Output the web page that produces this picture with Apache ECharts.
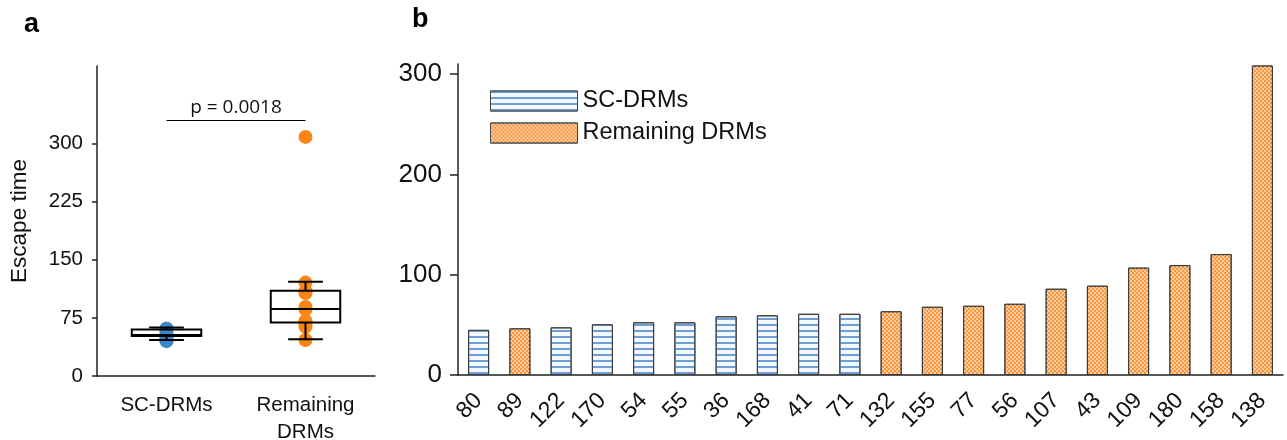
<!DOCTYPE html>
<html>
<head>
<meta charset="utf-8">
<script src="https://cdn.jsdelivr.net/npm/echarts@6/dist/echarts.min.js"></script>
<style>
	html, body { margin: 0; padding: 0; background: #fff; }
	#chart { width: 1287px; height: 440px; }
</style>
</head>
<body>
<div id="chart"></div>
<script>
	// panel b: one bar per DRM, sorted by escape time
	const drmIds = ['80', '89', '122', '170', '54', '55', '36', '168', '41', '71',
		'132', '155', '77', '56', '107', '43', '109', '180', '158', '138'];
	const escapeTimes = [45, 46.5, 47.5, 50.5, 52.5, 52.5, 58.5, 59.5, 61, 61,
		63.5, 68, 69, 71, 86, 89, 107, 109.5, 120.5, 308.5];
	const drmGroups = ['SC', 'R', 'SC', 'SC', 'SC', 'SC', 'SC', 'SC', 'SC', 'SC',
		'R', 'R', 'R', 'R', 'R', 'R', 'R', 'R', 'R', 'R'];

	// panel a
	const groupNames = ['SC-DRMs', 'Remaining\nDRMs'];
	// box stats: [min, q1, median, q3, max]
	const scBox = [46.5, 51.5, 53, 60, 62.5];
	const remBox = [47.5, 69, 86.5, 110, 121.5];
	const pValueText = 'p = 0.0018';
	const pBarLevel = 330;

	const yTicksA = [0, 75, 150, 225, 300];
	const yTicksB = [0, 100, 200, 300];

	const scPoints = escapeTimes.filter((v, i) => drmGroups[i] === 'SC').map(v => [0, v]);
	const remPoints = escapeTimes.filter((v, i) => drmGroups[i] === 'R').map(v => [1, v]);

	const scBars = escapeTimes.map((v, i) => drmGroups[i] === 'SC' ? v : null);
	const remBars = escapeTimes.map((v, i) => drmGroups[i] === 'R' ? v : null);

	const axisColor = '#222';
	const fontA = 'Liberation Sans, Arial, sans-serif';

	const mychart = echarts.init(document.getElementById('chart'));

	mychart.setOption({
		animation: false,
		textStyle: { fontFamily: fontA },
		title: [
			{ text: 'a', left: 19, top: 6, textStyle: { fontSize: 27, fontWeight: 'bold', color: '#000' } },
			{ text: 'b', left: 407, top: 1, textStyle: { fontSize: 27, fontWeight: 'bold', color: '#000' } }
		],
		legend: {
			left: 485,
			top: 84,
			orient: 'vertical',
			icon: 'rect',
			itemWidth: 87,
			itemHeight: 20,
			itemGap: 8,
			selectedMode: false,
			data: ['SC-DRMs', 'Remaining DRMs'],
			textStyle: { fontSize: 23.5, color: '#111' },
			itemStyle: { borderColor: '#444', borderWidth: 1 }
		},
		grid: [
			{ left: 97, right: 912, top: 66, bottom: 64, outerBoundsMode: 'none' },
			{ left: 458, right: 4, top: 64, bottom: 65, outerBoundsMode: 'none' }
		],
		xAxis: [
			{
				gridIndex: 0,
				type: 'category',
				data: groupNames,
				axisLine: { lineStyle: { color: axisColor, width: 1.5 } },
				axisTick: { alignWithLabel: true, length: 6, lineStyle: { color: axisColor, width: 1.5 } },
				axisLabel: { fontSize: 20.5, color: '#111', margin: 16, lineHeight: 27 }
			},
			{
				gridIndex: 1,
				type: 'category',
				data: drmIds,
				axisLine: { lineStyle: { color: axisColor, width: 1.5 } },
				axisTick: { alignWithLabel: true, length: 7, lineStyle: { color: axisColor, width: 1.5 } },
				axisLabel: { fontSize: 23, color: '#111', rotate: 45, margin: 22, interval: 0 }
			}
		],
		yAxis: [
			{
				gridIndex: 0,
				type: 'value',
				min: 0,
				max: 400,
				name: 'Escape time',
				nameLocation: 'middle',
				nameGap: 66,
				nameTextStyle: { fontSize: 22.5, color: '#111' },
				splitLine: { show: false },
				axisLine: { show: true, lineStyle: { color: axisColor, width: 1.5 } },
				axisTick: { show: true, length: 5, customValues: yTicksA, lineStyle: { color: axisColor, width: 1.5 } },
				axisLabel: { fontSize: 20.5, color: '#111', margin: 14, customValues: yTicksA }
			},
			{
				gridIndex: 1,
				type: 'value',
				min: 0,
				max: 310,
				splitLine: { show: false },
				axisLine: { show: true, lineStyle: { color: axisColor, width: 1.5 } },
				axisTick: { show: true, length: 8, customValues: yTicksB, lineStyle: { color: axisColor, width: 1.5 } },
				axisLabel: { fontSize: 26, color: '#111', margin: 16, customValues: yTicksB }
			}
		],
		series: [
			{
				name: 'sc-points',
				type: 'scatter',
				xAxisIndex: 0,
				yAxisIndex: 0,
				symbolSize: 14,
				itemStyle: { color: '#3b86c6', opacity: 1 },
				data: scPoints,
				z: 2
			},
			{
				name: 'rem-points',
				type: 'scatter',
				xAxisIndex: 0,
				yAxisIndex: 0,
				symbolSize: 14,
				itemStyle: { color: '#fb8617', opacity: 1 },
				data: remPoints,
				z: 2,
				markLine: {
					silent: true,
					symbol: ['none', 'none'],
					lineStyle: { color: '#000', width: 1.2, type: 'solid' },
					label: {
						show: true,
						position: 'insideMiddleTop',
						formatter: pValueText,
						fontSize: 19,
						color: '#111',
						fontFamily: 'Open Sans, sans-serif',
						distance: 3
					},
					data: [[{ coord: [0, pBarLevel] }, { coord: [1, pBarLevel] }]]
				}
			},
			{
				name: 'boxes',
				type: 'custom',
				xAxisIndex: 0,
				yAxisIndex: 0,
				z: 5,
				data: [[0].concat(scBox), [1].concat(remBox)],
				renderItem: function (params, api) {
					const x = api.value(0);
					const band = api.size([1, 0])[0];
					const half = band * 0.25;
					const cap = band * 0.125;
					const pMin = api.coord([x, api.value(1)]);
					const pQ1 = api.coord([x, api.value(2)]);
					const pMed = api.coord([x, api.value(3)]);
					const pQ3 = api.coord([x, api.value(4)]);
					const pMax = api.coord([x, api.value(5)]);
					const cx = pMin[0];
					const st = { stroke: '#000', lineWidth: 2, fill: null };
					return {
						type: 'group',
						children: [
							{ type: 'rect', shape: { x: cx - half, y: pQ3[1], width: half * 2, height: pQ1[1] - pQ3[1] }, style: st },
							{ type: 'line', shape: { x1: cx - half, y1: pMed[1], x2: cx + half, y2: pMed[1] }, style: st },
							{ type: 'line', shape: { x1: cx, y1: pQ1[1], x2: cx, y2: pMin[1] }, style: st },
							{ type: 'line', shape: { x1: cx, y1: pQ3[1], x2: cx, y2: pMax[1] }, style: st },
							{ type: 'line', shape: { x1: cx - cap, y1: pMin[1], x2: cx + cap, y2: pMin[1] }, style: st },
							{ type: 'line', shape: { x1: cx - cap, y1: pMax[1], x2: cx + cap, y2: pMax[1] }, style: st }
						]
					};
				}
			},
			{
				name: 'SC-DRMs',
				type: 'bar',
				xAxisIndex: 1,
				yAxisIndex: 1,
				barWidth: 21,
				barGap: '-100%',
				itemStyle: {
					color: '#f3f8fd',
					borderColor: '#3a3a3a',
					borderWidth: 1,
					decal: {
						symbol: 'rect',
						symbolSize: 1,
						dashArrayX: [1, 0],
						dashArrayY: [1.3, 3.4],
						color: '#6d9fd6'
					}
				},
				data: scBars
			},
			{
				name: 'Remaining DRMs',
				type: 'bar',
				xAxisIndex: 1,
				yAxisIndex: 1,
				barWidth: 21,
				barGap: '-100%',
				itemStyle: {
					color: '#f7983f',
					borderColor: '#3a3a3a',
					borderWidth: 1,
					decal: {
						symbol: 'rect',
						symbolSize: 1,
						dashArrayX: [[1.5, 1.5], [0, 1.5, 1.5, 0]],
						dashArrayY: [1.5, 0],
						color: 'rgba(255,255,255,0.5)'
					}
				},
				data: remBars
			}
		]
	});
</script>
</body>
</html>
